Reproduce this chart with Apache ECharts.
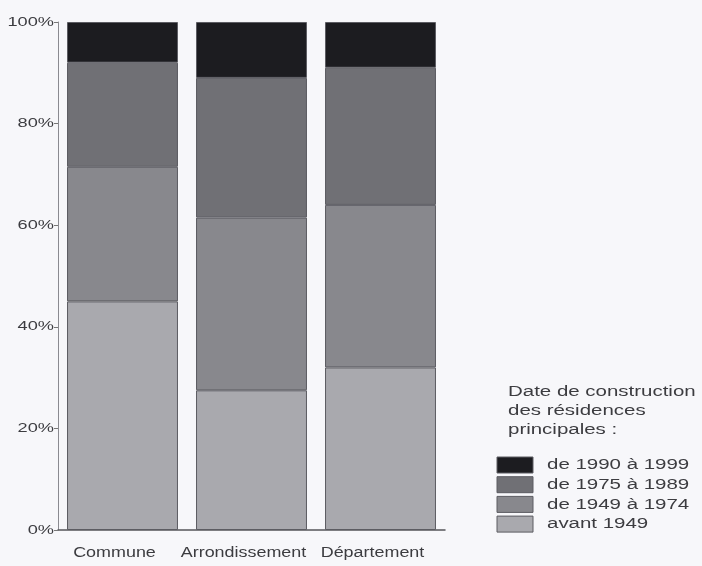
<!DOCTYPE html>
<html><head><meta charset="utf-8">
<script src="https://cdn.jsdelivr.net/npm/echarts@6/dist/echarts.min.js"></script>
<style>html,body{margin:0;padding:0;background:#f7f7fa;}#c{width:702px;height:566px;}</style>
</head><body><div id="c"></div>
<script>
const categories = ['Commune', 'Arrondissement', 'Département'];
const avant1949 = [45, 27.5, 32];
const de1949a1974 = [26.5, 34, 32];
const de1975a1989 = [20.5, 27.5, 27];
const de1990a1999 = [8, 11, 9];
const seriesNames = ['avant 1949', 'de 1949 à 1974', 'de 1975 à 1989', 'de 1990 à 1999'];
const yTicks = ['0%', '20%', '40%', '60%', '80%', '100%'];
const legendTitle = ['Date de construction', 'des résidences', 'principales :'];

const colors = ['#a9a9ae', '#88888d', '#707075', '#1c1c20'];
const values = [avant1949, de1949a1974, de1975a1989, de1990a1999];
const font = '"Liberation Sans", Arial, sans-serif';
const textColor = '#3c3c40';

const chart = echarts.init(document.getElementById('c'));
chart.setOption({
  backgroundColor: '#f7f7fa',
  animation: false,
  grid: { left: 58, right: 257, top: 22, bottom: 36 },
  xAxis: {
    type: 'category', data: categories,
    axisLine: { lineStyle: { color: '#55555a', width: 1.5 } },
    axisTick: { show: false },
    axisLabel: { show: false }
  },
  yAxis: {
    type: 'value', min: 0, max: 100, interval: 20,
    axisLine: { show: true, lineStyle: { color: '#8a8a90', width: 1 } },
    axisTick: { show: true, length: 4, lineStyle: { color: '#777' } },
    splitLine: { show: false },
    axisLabel: { show: false }
  },
  series: values.map((d, i) => ({
    name: seriesNames[i], type: 'bar', stack: 'total', data: d,
    barCategoryGap: '14%',
    itemStyle: { color: colors[i], borderColor: '#5c5c62', borderWidth: 1 }
  }))
});

// Horizontally stretched text labels, placed through the axes' own scales
const g = [];
yTicks.forEach((t, i) => {
  const y = chart.convertToPixel({ yAxisIndex: 0 }, i * 20);
  g.push({ type: 'text', x: 54, y: y, scaleX: 1.4,
    style: { text: t, fill: textColor, font: '13px ' + font, align: 'right', verticalAlign: 'middle' } });
});
categories.forEach((c, i) => {
  const x = chart.convertToPixel({ xAxisIndex: 0 }, i);
  g.push({ type: 'text', x: x - 8, y: 553, scaleX: 1.28,
    style: { text: c, fill: textColor, font: '14px ' + font, align: 'center', verticalAlign: 'middle' } });
});
legendTitle.forEach((t, i) => {
  g.push({ type: 'text', x: 508, y: 392 + i * 19, scaleX: 1.32,
    style: { text: t, fill: textColor, font: '15.5px ' + font, align: 'left', verticalAlign: 'middle' } });
});
seriesNames.slice().reverse().forEach((n, i) => {
  const ci = colors.length - 1 - i;
  const y = 465 + i * 19.7;
  g.push({ type: 'rect', x: 497, y: y - 8, shape: { x: 0, y: 0, width: 36, height: 16 },
    style: { fill: colors[ci], stroke: '#5c5c62', lineWidth: 1 } });
  g.push({ type: 'text', x: 547, y: y, scaleX: 1.32,
    style: { text: n, fill: textColor, font: '15.5px ' + font, align: 'left', verticalAlign: 'middle' } });
});
chart.setOption({ graphic: g });
</script></body></html>
